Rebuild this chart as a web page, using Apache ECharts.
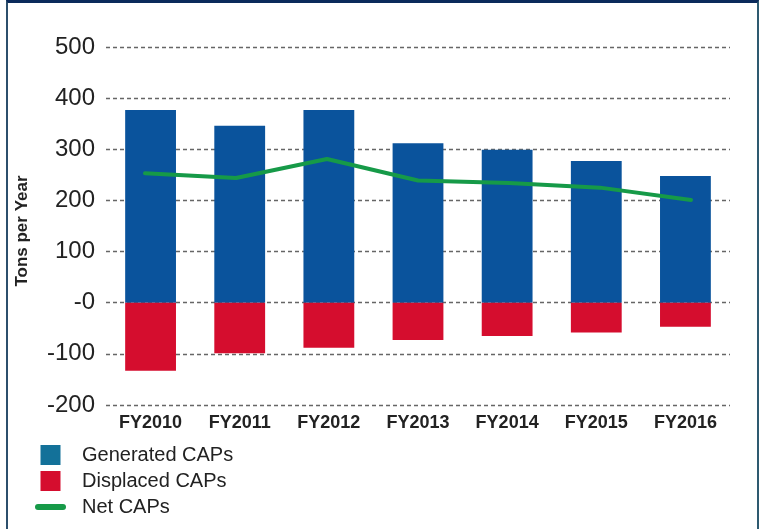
<!DOCTYPE html>
<html>
<head>
<meta charset="utf-8">
<script src="https://cdn.jsdelivr.net/npm/echarts@6/dist/echarts.min.js"></script>
<style>
  html, body { margin: 0; padding: 0; background: #fff; }
  .wrap { position: relative; width: 760px; height: 529px; }
  #chart { width: 760px; height: 529px; }
  /* the navy frame round the figure */
  .frame {
    position: absolute; left: 6px; top: 0; width: 753px; height: 529px;
    border-top: 3px solid #0b2a5b;
    border-left: 2px solid #2c4f6c;
    border-right: 2px solid #2e5a70;
    box-sizing: border-box;
    pointer-events: none;
  }
</style>
</head>
<body>
<div class="wrap">
  <div id="chart"></div>
  <div class="frame"></div>
</div>
<script>
// data
const years = ['FY2010', 'FY2011', 'FY2012', 'FY2013', 'FY2014', 'FY2015', 'FY2016']
const generated = [377, 346, 377, 312, 299, 277, 248]   // Generated CAPs
const displaced = [-133, -99, -88, -73, -65, -58, -47]  // Displaced CAPs
const net = [253, 244, 281, 239, 234, 225, 201]          // Net CAPs
const yMin = -200
const yMax = 500
const yStep = 100

const font = '"Liberation Sans", Arial, sans-serif'
let chart = echarts.init(document.getElementById('chart'))

let option = {
  backgroundColor: '#fff',
  animation: false,
  textStyle: { fontFamily: font },
  grid: [
    { left: 106, right: 30, top: 47, bottom: 124 },
    // line is drawn a touch wider than the bars in the original
    { left: 145, right: 69, top: 47, bottom: 124 }
  ],
  xAxis: [{
    type: 'category',
    gridIndex: 0,
    data: years,
    axisLine: { show: false },
    axisTick: { show: false },
    axisLabel: { color: '#222', fontSize: 18, fontWeight: 'bold', margin: 9, fontFamily: font }
  }, {
    type: 'category',
    gridIndex: 1,
    data: years,
    boundaryGap: false,
    show: false
  }],
  yAxis: [{
    type: 'value',
    gridIndex: 0,
    min: yMin,
    max: yMax,
    interval: yStep,
    axisLine: { show: false },
    axisTick: { show: false },
    axisLabel: {
      color: '#222',
      fontSize: 24,
      margin: 11,
      fontFamily: font,
      formatter: v => v === 0 ? '-0' : String(v)
    },
    splitLine: { lineStyle: { color: '#666', width: 1.3, type: [4, 3] } }
  }, {
    type: 'value',
    gridIndex: 1,
    min: yMin,
    max: yMax,
    show: false
  }],
  legend: {
    orient: 'vertical',
    left: 30,
    top: 440,
    itemWidth: 31,
    itemHeight: 20,
    itemGap: 6,
    selectedMode: false,
    textStyle: { color: '#222', fontSize: 20, fontFamily: font, padding: [0, 0, 0, 11] },
    data: [
      { name: 'Generated CAPs', icon: 'path://M0,0H1V1H0Z', itemStyle: { color: '#137199' } },
      { name: 'Displaced CAPs', icon: 'path://M0,0H1V1H0Z', itemStyle: { color: '#d50d2e' } },
      { name: 'Net CAPs', icon: 'path://M3,0H28A3,3,0,0,1,28,6H3A3,3,0,0,1,3,0Z', itemStyle: { color: '#169a48' } }
    ]
  },
  graphic: [{
    type: 'text',
    x: 22,
    y: 231,
    rotation: Math.PI / 2,
    style: {
      text: 'Tons per Year',
      fill: '#222',
      font: 'bold 17px ' + font,
      align: 'center',
      verticalAlign: 'middle'
    }
  }],
  series: [{
    name: 'Generated CAPs',
    type: 'bar',
    stack: 'caps',
    barWidth: '57%',
    data: generated,
    itemStyle: { color: '#0a539c' }
  }, {
    name: 'Displaced CAPs',
    type: 'bar',
    stack: 'caps',
    barWidth: '57%',
    data: displaced,
    itemStyle: { color: '#d50d2e' }
  }, {
    name: 'Net CAPs',
    type: 'line',
    xAxisIndex: 1,
    yAxisIndex: 1,
    data: net,
    showSymbol: false,
    lineStyle: { color: '#169a48', width: 4, cap: 'round', join: 'round' },
    itemStyle: { color: '#169a48' },
    z: 5
  }]
}

chart.setOption(option)
</script>
</body>
</html>
